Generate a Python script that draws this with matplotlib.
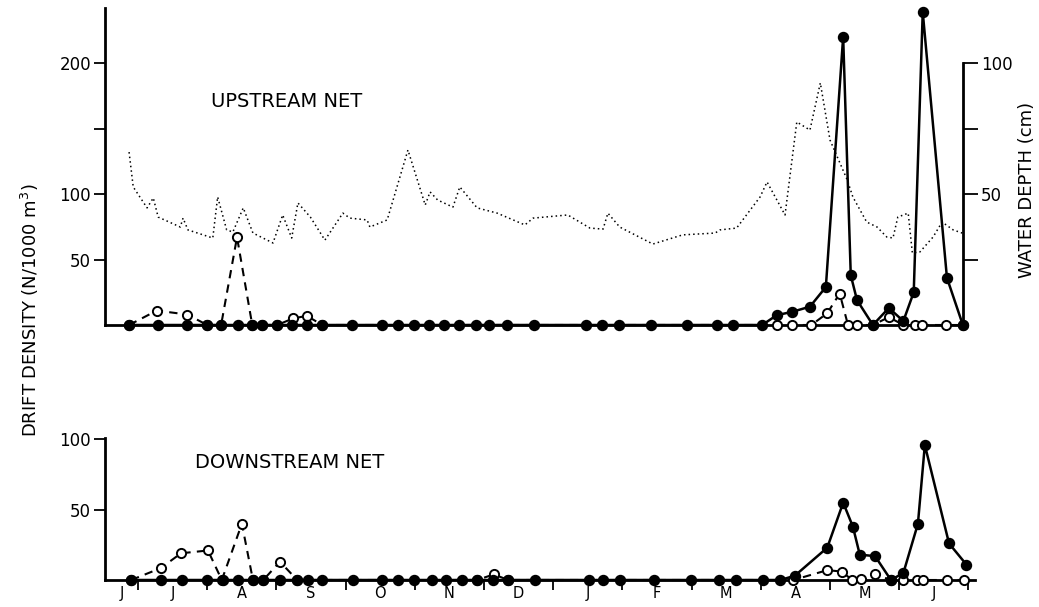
import matplotlib
matplotlib.use("Agg")
import matplotlib.pyplot as plt
from matplotlib.ticker import FixedLocator, FixedFormatter, NullFormatter

plt.rcParams['font.family'] = ['DejaVu Sans']

# Time axis in months: 0 = 1 July, 12 = 1 July of the following year
month_edges = [0, 1, 2, 3, 4, 5, 6, 7, 8, 9, 10, 11, 12]
month_labels = ["J", "J", "A", "S", "O", "N", "D", "J", "F", "M", "A", "M", "J"]
month_label_pos = [-0.24, 0.5, 1.5, 2.5, 3.5, 4.5, 5.5, 6.5, 7.5, 8.5, 9.5, 10.5, 11.5]

# Upstream net: drift density of the two groups (N/1000 m^3)
up_x = [-0.13, 0.29, 0.71, 1.00, 1.20, 1.44, 1.65, 1.79, 2.01, 2.22, 2.44, 2.66,
        3.09, 3.53, 3.76, 3.99, 4.20, 4.42, 4.64, 4.88, 5.07, 5.33, 5.72, 6.47,
        6.71, 6.95, 7.41, 7.93, 8.37, 8.60, 9.02, 9.23, 9.45, 9.71, 9.94, 10.19,
        10.30, 10.39, 10.62, 10.85, 11.06, 11.21, 11.34, 11.69, 11.92]
up_filled = [0, 0, 0, 0, 0, 0, 0, 0, 0, 0, 0, 0,
             0, 0, 0, 0, 0, 0, 0, 0, 0, 0, 0, 0,
             0, 0, 0, 0, 0, 0, 0, 7.5, 10, 14, 29, 220,
             38, 19, 0, 13, 3, 25, 239, 36, 0]
up_open_x = [-0.13, 0.27, 0.71, 1.00, 1.20, 1.43, 1.65, 1.79, 2.01, 2.24, 2.44, 2.66,
             9.23, 9.45, 9.73, 9.96, 10.14, 10.26, 10.39, 10.62, 10.85, 11.06, 11.23,
             11.33, 11.68, 11.92]
up_open = [0, 11, 8, 0, 0, 67, 0, 0, 0, 5, 7, 0,
           0, 0, 0, 9, 24, 0, 0, 0, 6, 0, 0,
           0, 0, 0]

# Water depth at the upstream site (cm)
depth_x = [-0.13, -0.07, 0.13, 0.22, 0.29, 0.61, 0.65, 0.72, 1.08, 1.15, 1.28, 1.37,
           1.52, 1.66, 1.95, 2.09, 2.22, 2.31, 2.49, 2.70, 2.96, 3.06, 3.31, 3.35,
           3.60, 3.90, 4.15, 4.22, 4.33, 4.55, 4.65, 4.90, 5.19, 5.59, 5.71, 6.21,
           6.53, 6.72, 6.79, 6.96, 7.44, 7.87, 8.34, 8.41, 8.65, 8.99, 9.09, 9.35,
           9.52, 9.71, 9.86, 10.00, 10.25, 10.33, 10.53, 10.68, 10.82, 10.91, 10.98,
           11.13, 11.19, 11.30, 11.49, 11.62, 11.78, 11.91]
depth_cm = [66, 52.7, 44.7, 48.5, 41.2, 37.4, 40.8, 36.3, 33.2, 48.9, 36.3, 35.5,
            44.7, 35.1, 31.3, 42, 33.2, 46.6, 41.2, 32.4, 42.7, 40.8, 40.1, 37.4,
            40.1, 66.8, 45.8, 50.8, 47.7, 45, 52.7, 44.7, 42.7, 38.2, 40.8, 42,
            37, 36.6, 42.7, 37.4, 30.9, 34.4, 35.1, 36.3, 37, 48.9, 54.6, 42,
            77.5, 74.4, 92.4, 70.6, 55.3, 48.9, 39.3, 37.4, 33.6, 33.2, 41.2,
            42.7, 27.5, 27.9, 33.6, 39.3, 36.3, 35.1]

# Downstream net
down_x = [-0.10, 0.33, 0.63, 1.00, 1.23, 1.44, 1.66, 1.81, 2.05, 2.30, 2.46, 2.66,
          3.11, 3.53, 3.76, 3.99, 4.25, 4.45, 4.68, 4.90, 5.13, 5.35, 5.74, 6.52,
          6.72, 6.97, 7.46, 7.99, 8.40, 8.64, 9.03, 9.28, 9.49, 9.96, 10.19, 10.33,
          10.43, 10.65, 10.88, 11.06, 11.27, 11.37, 11.72, 11.97]
down_filled = [0, 0, 0, 0, 0, 0, 0, 0, 0, 0, 0, 0,
               0, 0, 0, 0, 0, 0, 0, 0, 0, 0, 0, 0,
               0, 0, 0, 0, 0, 0, 0, 0, 3, 23, 55, 38,
               18, 17, 0, 5, 40, 96, 26, 11]
down_open_x = [-0.10, 0.33, 0.62, 1.01, 1.21, 1.50, 1.66, 1.81, 2.05, 2.30,
               4.90, 5.14, 5.35,
               9.47, 9.96, 10.17, 10.32, 10.45, 10.65, 10.88, 11.06, 11.26, 11.34,
               11.69, 11.94]
down_open = [0, 8.5, 19, 21, 0, 40, 0, 0, 13, 0,
             0, 4, 0,
             0, 7, 6, 0, 1, 4, 0, 0, 0, 0,
             0, 0]

W, H = 1039, 607
fig = plt.figure(figsize=(W / 100, H / 100), dpi=100)


def rect(left, top, right, bottom):
    return [left / W, 1 - bottom / H, (right - left) / W, (bottom - top) / H]


SPINE_W = 2.0
filled_style = dict(color='black', lw=1.8, marker='o', ms=7.2, mfc='black',
                    mec='black', clip_on=False, zorder=4)
open_style = dict(color='black', lw=1.5, ls=(0, (4, 3)), marker='o', ms=6.6,
                  mfc='white', mec='black', mew=1.4, clip_on=False, zorder=3)

# ---------- upstream panel ----------
ax1 = fig.add_axes(rect(105, 8, 963, 325))
ax1.set_xlim(-0.478, 11.922)
ax1.set_ylim(0, 242)
ax1.plot(up_open_x, up_open, **open_style)
ax1.plot(up_x, up_filled, **filled_style)

for side in ('top', 'right'):
    ax1.spines[side].set_visible(False)
for side in ('left', 'bottom'):
    ax1.spines[side].set_linewidth(SPINE_W)
ax1.tick_params(axis='x', bottom=False, labelbottom=False)
ax1.yaxis.set_major_locator(FixedLocator([50, 100, 150, 200]))
ax1.yaxis.set_major_formatter(FixedFormatter(['50', '100', '', '200']))
ax1.tick_params(axis='y', direction='out', length=8, width=1.3, pad=2, labelsize=12)
ax1.text(0.212, 0.705, "UPSTREAM NET", transform=ax1.transAxes,
         ha='center', va='center', fontsize=14)

# water depth on the right-hand axis
ax1r = ax1.twinx()
ax1r.set_ylim(0, 121)
ax1r.plot(depth_x, depth_cm, color='black', lw=1.1, ls=(0, (1, 2)), zorder=2)
for side in ('top', 'left', 'bottom'):
    ax1r.spines[side].set_visible(False)
ax1r.spines['right'].set_linewidth(SPINE_W)
ax1r.spines['right'].set_bounds(0, 100)
ax1r.yaxis.set_major_locator(FixedLocator([25, 50, 75, 100]))
ax1r.yaxis.set_major_formatter(FixedFormatter(['', '50', '', '100']))
ax1r.tick_params(axis='y', direction='out', length=11, width=1.3, pad=2, labelsize=12)

# ---------- downstream panel ----------
ax2 = fig.add_axes(rect(105, 438, 975, 580))
ax2.set_xlim(-0.478, 12.095)
ax2.set_ylim(0, 101)
ax2.plot(down_open_x, down_open, **open_style)
ax2.plot(down_x, down_filled, **filled_style)

for side in ('top', 'right'):
    ax2.spines[side].set_visible(False)
for side in ('left', 'bottom'):
    ax2.spines[side].set_linewidth(SPINE_W)
ax2.yaxis.set_major_locator(FixedLocator([50, 100]))
ax2.yaxis.set_major_formatter(FixedFormatter(['50', '100']))
ax2.tick_params(axis='y', direction='out', length=8, width=1.3, pad=2, labelsize=12)

ax2.xaxis.set_major_locator(FixedLocator(month_edges))
ax2.xaxis.set_major_formatter(NullFormatter())
ax2.xaxis.set_minor_locator(FixedLocator(month_label_pos))
ax2.xaxis.set_minor_formatter(FixedFormatter(month_labels))
ax2.tick_params(axis='x', which='major', direction='out', length=7, width=1.3)
ax2.tick_params(axis='x', which='minor', length=0, pad=4, labelsize=10.5)
ax2.text(0.212, 0.83, "DOWNSTREAM NET", transform=ax2.transAxes,
         ha='center', va='center', fontsize=14)

# shared axis titles
fig.text(30 / W, 1 - 310 / H, "DRIFT DENSITY (N/1000 m$^{3}$)", rotation=90,
         ha='center', va='center', fontsize=13)
fig.text(1027 / W, 1 - 190 / H, "WATER DEPTH (cm)", rotation=90,
         ha='center', va='center', fontsize=13)

fig.savefig("out.png", dpi=100)
